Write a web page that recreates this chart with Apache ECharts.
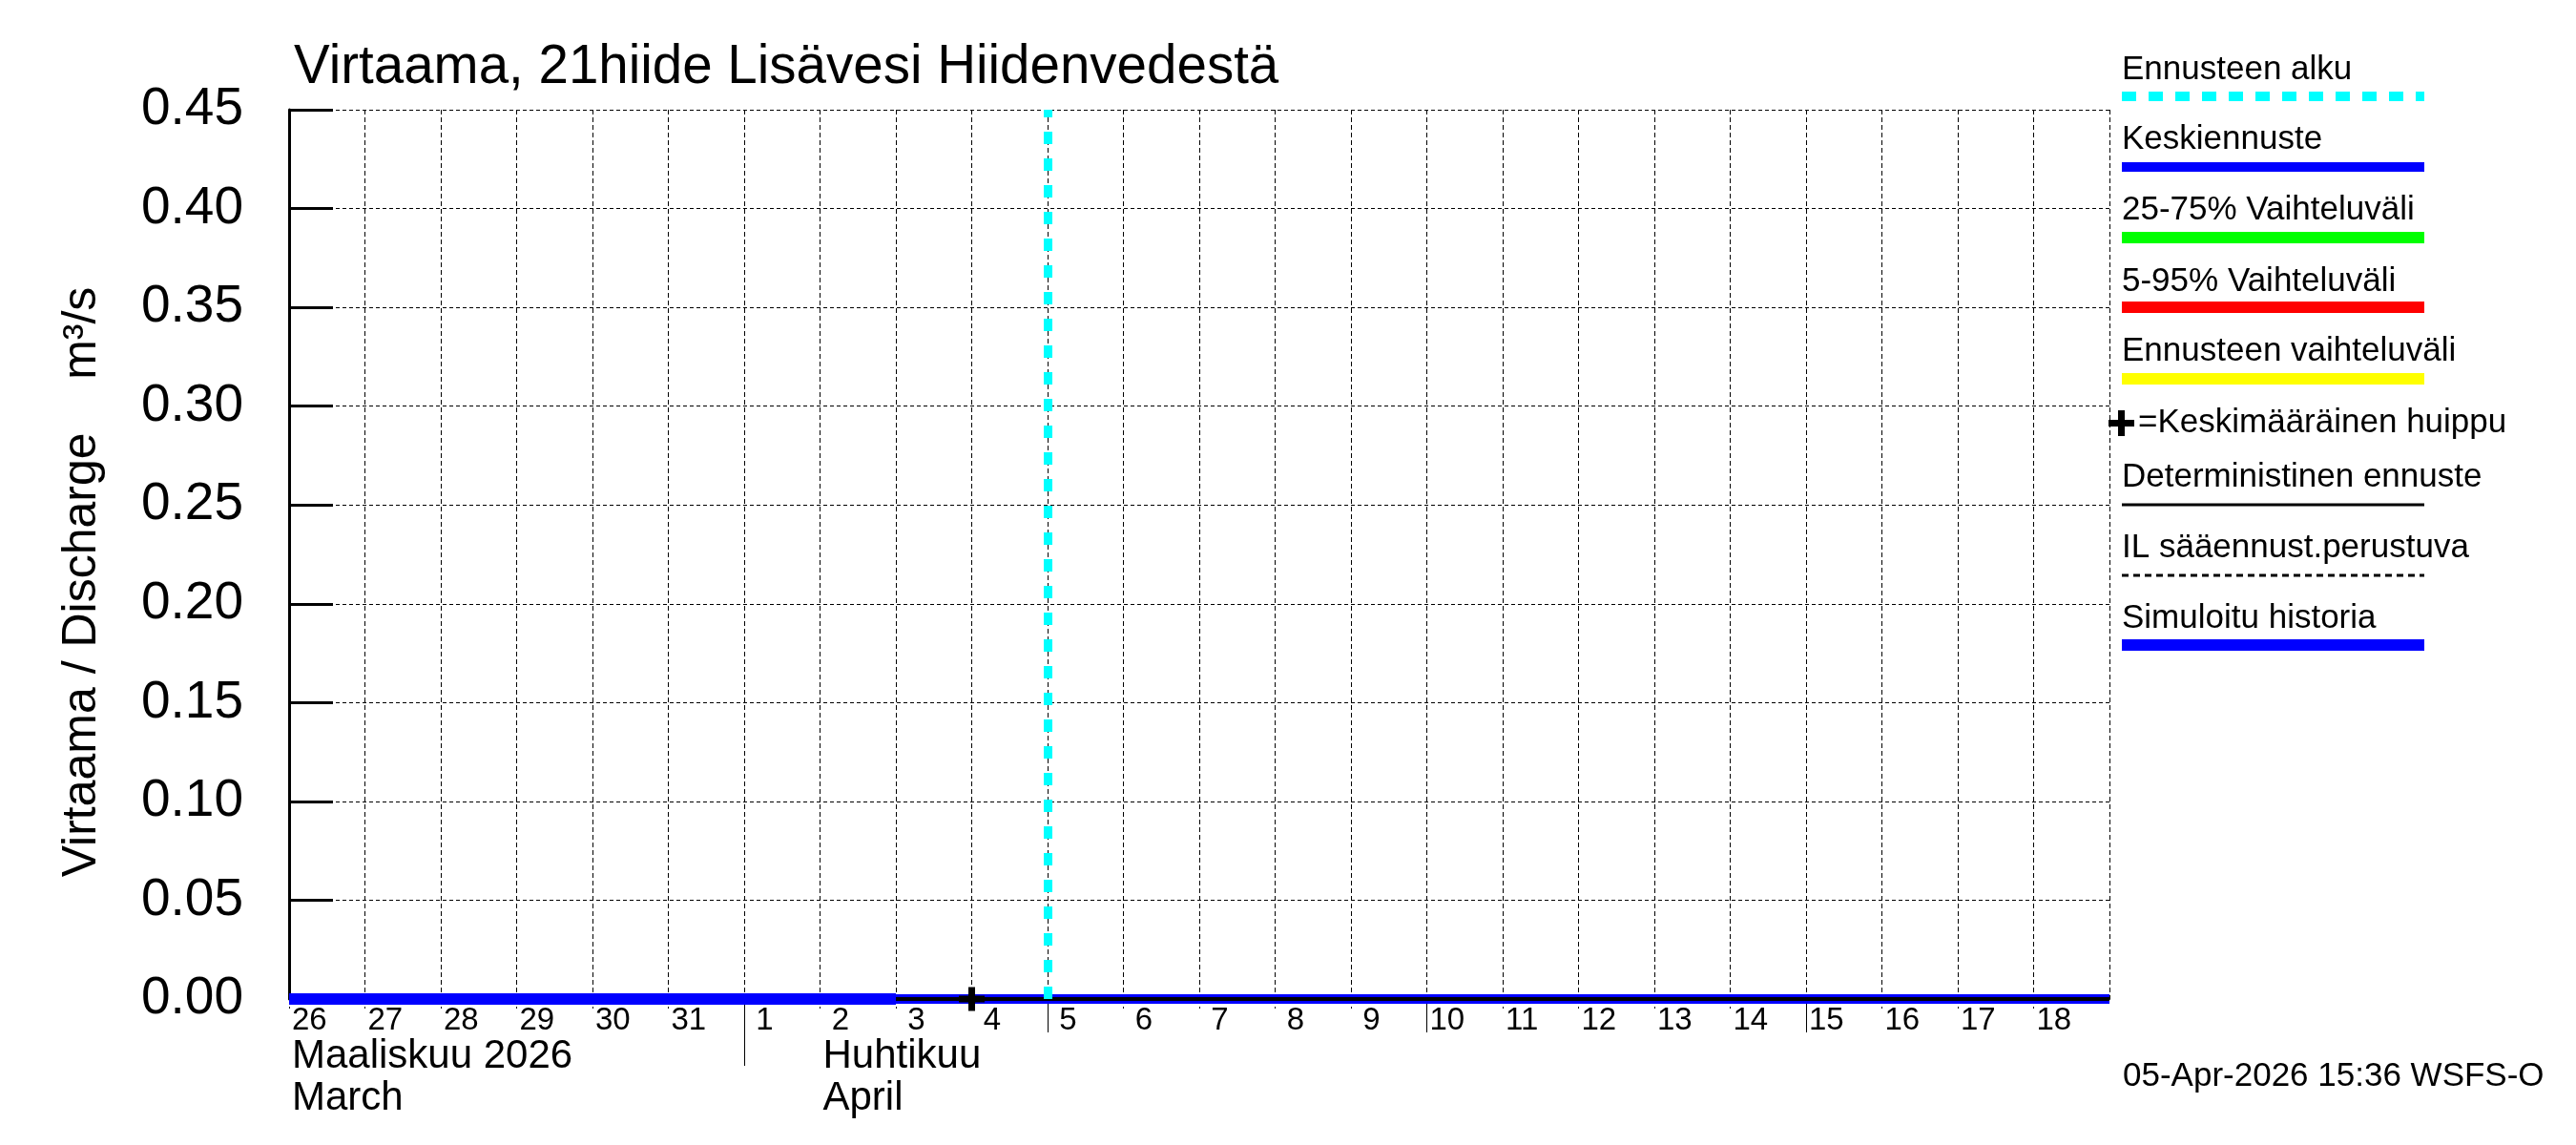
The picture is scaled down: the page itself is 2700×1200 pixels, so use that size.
<!DOCTYPE html>
<html><head><meta charset="utf-8">
<script src="https://cdn.jsdelivr.net/npm/echarts@6/dist/echarts.min.js"></script>
<style>html,body{margin:0;padding:0;background:#fff}#c{width:2700px;height:1200px}</style>
</head><body><div id="c"></div>
<script>
// ---------- data ----------
const titleText = 'Virtaama, 21hiide Lisävesi Hiidenvedestä';
const yAxisTitle = 'Virtaama / Discharge    m³/s';
const stampText = '05-Apr-2026 15:36 WSFS-O';
const xStart = '2026-03-26';
const xEnd = '2026-04-19';
const yMin = 0, yMax = 0.45, yStep = 0.05;

const histDates  = ['2026-03-26','2026-03-27','2026-03-28','2026-03-29','2026-03-30','2026-03-31','2026-04-01','2026-04-02','2026-04-03'];
const histValues = [0,0,0,0,0,0,0,0,0];

const fcDates = ['2026-04-03','2026-04-04','2026-04-05','2026-04-06','2026-04-07','2026-04-08','2026-04-09','2026-04-10','2026-04-11','2026-04-12','2026-04-13','2026-04-14','2026-04-15','2026-04-16','2026-04-17','2026-04-18','2026-04-19'];
const medianValues = [0,0,0,0,0,0,0,0,0,0,0,0,0,0,0,0,0];
const detValues    = [0,0,0,0,0,0,0,0,0,0,0,0,0,0,0,0,0];

const peakDates  = ['2026-04-04'];
const peakValues = [0];

const forecastStartDate = '2026-04-05';

const monthDates = ['2026-03-26','2026-04-02'];
const monthNames = ['Maaliskuu 2026\nMarch','Huhtikuu\nApril'];
const monthSepDates = ['2026-04-01'];
const majorTickDates = ['2026-04-05','2026-04-10','2026-04-15'];

const legendNames = ['Ennusteen alku','Keskiennuste','25-75% Vaihteluväli','5-95% Vaihteluväli','Ennusteen vaihteluväli','=Keskimääräinen huippu','Deterministinen ennuste','IL sääennust.perustuva','Simuloitu historia'];

// ---------- helpers ----------
const T = s => Date.parse(s);
const DAY = 86400000;
const FONT = '"Liberation Sans", Arial, Helvetica, sans-serif';
const pairs = (d, v) => d.map((x, i) => [T(x), v[i]]);

const chart = echarts.init(document.getElementById('c'), null, {renderer: 'canvas'});

// legend layout (visual only)
const legendStyle = [
  {color:'#00ffff', w:10, dash:[15,13], tb:85,  ly:101},
  {color:'#0000ff', w:10, tb:158, ly:175},
  {color:'#00ff00', w:12, tb:232, ly:249},
  {color:'#ff0000', w:12, tb:307, ly:322},
  {color:'#ffff00', w:12, tb:380, ly:397},
  {plus:true, tb:455},
  {color:'#000000', w:3, tb:512, ly:529},
  {color:'#000000', w:3, dash:[7,5], tb:586, ly:603},
  {color:'#0000ff', w:12, tb:660, ly:676}
];
const LX0 = 2224, LX1 = 2541, LFS = 35;
const graphics = [];
legendNames.forEach((name, i) => {
  const s = legendStyle[i];
  graphics.push({type:'text', x: s.plus ? 2241 : LX0, y: s.tb - 0.34*LFS,
    style:{text:name, font: LFS + 'px ' + FONT, fill:'#000', textAlign:'left', textVerticalAlign:'middle'}});
  if (s.plus) {
    graphics.push({type:'rect', shape:{x:2210, y:440, width:27, height:7}, style:{fill:'#000'}});
    graphics.push({type:'rect', shape:{x:2220, y:430, width:7, height:27}, style:{fill:'#000'}});
  } else {
    graphics.push({type:'line', shape:{x1:LX0, y1:s.ly, x2:LX1, y2:s.ly},
      style:{stroke:s.color, lineWidth:s.w, lineDash: s.dash || null, lineCap:'butt'}});
  }
});
graphics.push({type:'text', x:86, y:610, rotation:Math.PI/2,
  style:{text:yAxisTitle, font:'50px ' + FONT, fill:'#000', textAlign:'center', textVerticalAlign:'middle'}});
graphics.push({type:'text', x:2225, y:1140 - 0.34*35,
  style:{text:stampText, font:'35px ' + FONT, fill:'#000', textAlign:'left', textVerticalAlign:'middle'}});

const option = {
  animation: false,
  backgroundColor: '#fff',
  textStyle: {fontFamily: FONT},
  title: {text: titleText, left: 303, top: 38,
    textStyle: {fontFamily: FONT, fontSize: 56.5, fontWeight: 'normal', color: '#000'}},
  grid: {left: 303, right: 489, top: 115, bottom: 153, containLabel: false, outerBoundsMode: 'none'},
  xAxis: [
    {type:'value', min:T(xStart), max:T(xEnd), interval:DAY, position:'bottom',
     axisLine:{show:true, onZero:false, lineStyle:{color:'#000', width:2}},
     axisTick:{show:true, length:10, lineStyle:{color:'#000', width:1, type:[5,3]}},
     axisLabel:{show:true, align:'left', padding:[0,0,0,3], margin:6, fontSize:33, color:'#000',
       fontFamily:FONT, showMaxLabel:false,
       formatter: v => { const d = new Date(v).getUTCDate(); return (d < 10 ? ' ' : '') + d; }},
     splitLine:{show:true, lineStyle:{color:'#000', width:1, type:[5,3]}}},
    {type:'value', min:T(xStart), max:T(xEnd), position:'bottom', offset:0,
     axisLine:{show:false}, splitLine:{show:false},
     axisTick:{show:true, customValues: monthSepDates.map(T), length:70, lineStyle:{color:'#000', width:1}},
     axisLabel:{show:true, customValues: monthDates.map(T), align:'left', margin:38, padding:[0,0,0,3],
       fontSize:42, lineHeight:44, color:'#000', fontFamily:FONT,
       formatter: v => monthNames[monthDates.map(T).indexOf(v)] || ''}},
    {type:'value', min:T(xStart), max:T(xEnd), position:'bottom', offset:0,
     axisLine:{show:false}, splitLine:{show:false}, axisLabel:{show:false},
     axisTick:{show:true, customValues: majorTickDates.map(T), length:35, lineStyle:{color:'#000', width:1}}}
  ],
  yAxis: {type:'value', min:yMin, max:yMax, interval:yStep,
    axisLine:{show:true, lineStyle:{color:'#000', width:3}},
    axisTick:{show:true, inside:true, length:46, lineStyle:{color:'#000', width:3}},
    axisLabel:{fontSize:55, color:'#000', margin:48, fontFamily:FONT, padding:[0,0,16,0],
      formatter: v => v.toFixed(2)},
    splitLine:{show:true, lineStyle:{color:'#000', width:1, type:[4,3]}}},
  series: [
    {name:'Ennusteen alku', type:'line', data:[], z:1, xAxisIndex:0,
     markLine:{silent:true, symbol:'none', label:{show:false},
       lineStyle:{color:'#00ffff', width:9, type:[13,15], cap:'butt'},
       data:[{xAxis: T(forecastStartDate)}]}},
    {name:'Simuloitu historia', type:'line', data:pairs(histDates, histValues), z:2, clip:false,
     showSymbol:false, symbol:'none', lineStyle:{color:'#0000ff', width:12, cap:'butt'}},
    {name:'Keskiennuste', type:'line', data:pairs(fcDates, medianValues), z:3, clip:false,
     showSymbol:false, symbol:'none', lineStyle:{color:'#0000ff', width:10, cap:'butt'}},
    {name:'Deterministinen ennuste', type:'line', data:pairs(fcDates, detValues), z:4, clip:false,
     showSymbol:false, symbol:'none', lineStyle:{color:'#000000', width:4, cap:'butt'}},
    {name:'Keskimääräinen huippu', type:'scatter', data:pairs(peakDates, peakValues), z:5, clip:false,
     symbol:'path://M10,0 h7 v9 h10 v7 h-10 v9 h-7 v-9 h-10 v-7 h10 z', symbolSize:[27,25],
     itemStyle:{color:'#000', opacity:1}}
  ],
  graphic: graphics
};
chart.setOption(option);
</script></body></html>
